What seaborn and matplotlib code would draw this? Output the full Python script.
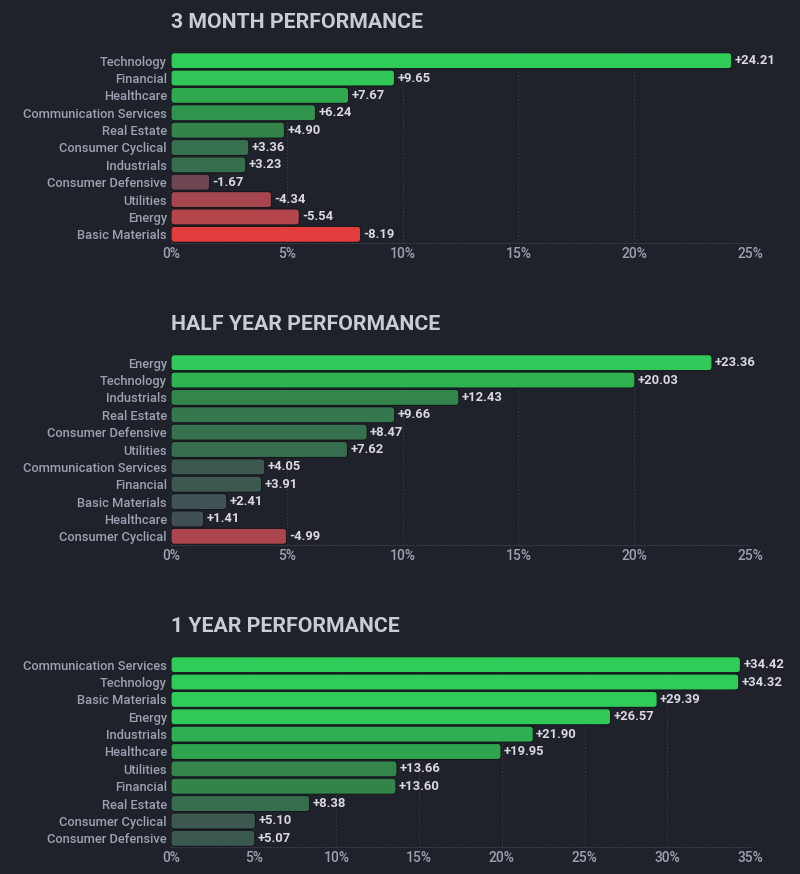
import matplotlib
matplotlib.use("Agg")
import matplotlib.pyplot as plt
import seaborn as sns
import pandas as pd
from matplotlib.colors import LinearSegmentedColormap
from matplotlib.patches import FancyBboxPatch

# --- data ---
titles = ["3 MONTH PERFORMANCE", "HALF YEAR PERFORMANCE", "1 YEAR PERFORMANCE"]

sectors_3m = ["Technology", "Financial", "Healthcare", "Communication Services", "Real Estate",
              "Consumer Cyclical", "Industrials", "Consumer Defensive", "Utilities", "Energy",
              "Basic Materials"]
perf_3m = [24.21, 9.65, 7.67, 6.24, 4.90, 3.36, 3.23, -1.67, -4.34, -5.54, -8.19]

sectors_6m = ["Energy", "Technology", "Industrials", "Real Estate", "Consumer Defensive",
              "Utilities", "Communication Services", "Financial", "Basic Materials",
              "Healthcare", "Consumer Cyclical"]
perf_6m = [23.36, 20.03, 12.43, 9.66, 8.47, 7.62, 4.05, 3.91, 2.41, 1.41, -4.99]

sectors_1y = ["Communication Services", "Technology", "Basic Materials", "Energy", "Industrials",
              "Healthcare", "Utilities", "Financial", "Real Estate", "Consumer Cyclical",
              "Consumer Defensive"]
perf_1y = [34.42, 34.32, 29.39, 26.57, 21.90, 19.95, 13.66, 13.60, 8.38, 5.10, 5.07]

x_max = [25, 25, 35]
# value at which the colour is at full strength (pos, neg)
color_full = [(10, 8.2), (24, 8.2), (27, 8.2)]

BG = "#1f222a"
GRID = "#393d47"
LABEL = "#9ba1b1"
VALUE = "#d8dae0"
TITLE = "#c9ccd4"

green = LinearSegmentedColormap.from_list("g", [
    (0.0, "#434a56"), (0.2, "#3c5a50"), (0.35, "#36724f"),
    (0.5, "#33844b"), (0.75, "#2fa54e"), (1.0, "#30cc5a")])
red = LinearSegmentedColormap.from_list("r", [
    (0.0, "#5e4450"), (0.2, "#6e4552"), (0.55, "#a8454e"),
    (0.7, "#b64549"), (1.0, "#e23c3c")])


def bar_color(v, full):
    if v >= 0:
        return green(min(v / full[0], 1.0))
    return red(min(-v / full[1], 1.0))


sns.set_theme(style="dark")
plt.rcParams["font.family"] = ["Roboto", "DejaVu Sans"]

fig = plt.figure(figsize=(8, 8.74), dpi=100, facecolor=BG)

panels = [(sectors_3m, perf_3m), (sectors_6m, perf_6m), (sectors_1y, perf_1y)]
top_px = [52, 354, 656]
title_px = [22, 324, 627]

for i, (sectors, perf) in enumerate(panels):
    df = pd.DataFrame({"sector": sectors, "perf": perf})
    df["size"] = df["perf"].abs()
    colors = [bar_color(v, color_full[i]) for v in perf]

    bottom = 1 - (top_px[i] + 191) / 874
    ax = fig.add_axes([171 / 800, bottom, 579 / 800, 191 / 874])
    ax.set_facecolor(BG)

    sns.barplot(data=df, x="size", y="sector", hue="sector", palette=colors,
                saturation=1, legend=False, orient="h", width=0.92, ax=ax, zorder=3)

    ax.set_xlim(0, x_max[i])
    ax.set_ylim(len(sectors) - 0.5, -0.5)

    # rounded bars
    xunit = x_max[i] / 579
    yunit = len(sectors) / 191
    for p in list(ax.patches):
        x0, y0 = p.get_x(), p.get_y()
        w, h = p.get_width(), p.get_height()
        fc = p.get_facecolor()
        p.remove()
        r = 3.5 * xunit
        fb = FancyBboxPatch((x0, y0), w, h,
                            boxstyle=f"round,pad=0,rounding_size={r}",
                            mutation_aspect=yunit / xunit,
                            facecolor=fc, edgecolor="#15171c", linewidth=0.8, zorder=3)
        ax.add_patch(fb)

    for j, v in enumerate(perf):
        ax.annotate(f"{v:+.2f}", xy=(abs(v), j), xytext=(2, 0), textcoords="offset points",
                    ha="left", va="center", fontsize=9.4, fontweight="bold", color=VALUE,
                    annotation_clip=False, zorder=4)

    ax.set_xticks(range(0, x_max[i] + 1, 5))
    ax.set_xticklabels([f"{t}%" for t in range(0, x_max[i] + 1, 5)], fontweight="medium")
    for lab in ax.get_yticklabels():
        lab.set_fontweight("medium")
    ax.tick_params(axis="x", length=0, pad=3, labelsize=10, labelcolor=LABEL)
    ax.tick_params(axis="y", length=0, pad=3, labelsize=9.3, labelcolor=LABEL)
    ax.set_xlabel("")
    ax.set_ylabel("")
    ax.xaxis.grid(True, color=GRID, linestyle=(0, (1.5, 2)), linewidth=0.7, zorder=0)
    ax.yaxis.grid(False)
    ax.set_axisbelow(True)
    for s in ["top", "right", "left"]:
        ax.spines[s].set_visible(False)
    ax.spines["bottom"].set_visible(True)
    ax.spines["bottom"].set_color(GRID)
    ax.spines["bottom"].set_linestyle((0, (1.5, 2)))
    ax.spines["bottom"].set_linewidth(0.7)

    fig.text(171 / 800, 1 - title_px[i] / 874, titles[i], ha="left", va="center",
             fontsize=15.3, fontweight="bold", color=TITLE)

fig.savefig("out.png", dpi=100, facecolor=BG)
